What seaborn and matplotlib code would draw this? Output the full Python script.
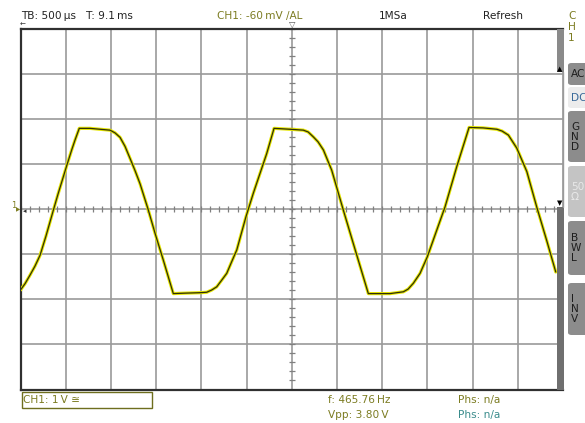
import numpy as np
import pandas as pd
import matplotlib
matplotlib.use("Agg")
import matplotlib.pyplot as plt
import seaborn as sns
from matplotlib.patches import Rectangle, FancyBboxPatch

# ---- data (time in ms from left edge, voltage in V) ----
time_ms = [0.000, 0.050, 0.105, 0.160, 0.216, 0.282, 0.363, 0.415, 0.473, 0.514,
           0.566, 0.603, 0.650, 0.769, 0.879, 0.990, 1.045, 1.101, 1.156, 1.212,
           1.267, 1.322, 1.410, 1.488, 1.580, 1.632, 1.690, 1.820, 1.986, 2.060,
           2.115, 2.170, 2.226, 2.281, 2.336, 2.392, 2.494, 2.575, 2.649, 2.723,
           2.804, 2.981, 3.128, 3.181, 3.239, 3.291, 3.350, 3.442, 3.571, 3.681,
           3.847, 4.087, 4.235, 4.287, 4.345, 4.419, 4.500, 4.604, 4.696, 4.825,
           4.961, 5.116, 5.268, 5.326, 5.396, 5.489, 5.600, 5.710, 5.821, 5.920]
volts = [-1.79, -1.65, -1.46, -1.26, -1.02, -0.59, -0.02, 0.34, 0.72, 0.99,
         1.32, 1.54, 1.80, 1.80, 1.78, 1.76, 1.70, 1.60, 1.40, 1.13,
         0.86, 0.57, 0.01, -0.53, -1.13, -1.48, -1.87, -1.86, -1.85, -1.84,
         -1.79, -1.72, -1.57, -1.42, -1.16, -0.90, -0.16, 0.36, 0.80, 1.24,
         1.80, 1.78, 1.76, 1.72, 1.61, 1.50, 1.32, 0.87, -0.02, -0.76,
         -1.87, -1.87, -1.83, -1.77, -1.64, -1.42, -1.05, -0.46, 0.06, 0.95,
         1.82, 1.81, 1.78, 1.74, 1.65, 1.36, 0.84, 0.05, -0.70, -1.39]

x_grid = np.arange(0, 6.01, 0.5)     # 500 us / div, 12 div
y_grid = np.arange(-4, 4.01, 1.0)    # 1 V / div, 8 div

header_left = "TB: 500\u2009\u00b5s   T: 9.1\u2009ms"
header_trig = "CH1: -60\u2009mV \u2215AL"
header_rate = "1MSa"
header_mode = "Refresh"
ch_box = "CH1: 1\u2009V \u2245"
meas1 = ["f: 465.76\u2009Hz", "Vpp: 3.80\u2009V"]
meas2 = ["Phs: n/a", "Phs: n/a"]
buttons = ["AC", "DC", "G\nN\nD", "50\n\u2126", "B\nW\nL", "I\nN\nV"]

df = pd.DataFrame({"t": time_ms, "v": volts})

W, H = 585, 423
sns.set_style("white")
plt.rcParams["font.family"] = ["DejaVu Sans"]
fig = plt.figure(figsize=(W / 100, H / 100), dpi=100)
fig.patch.set_facecolor("white")

def fx(px):
    return px / W

def fy(py):
    return 1 - py / H

L, R, T, B = 20.5, 563.0, 29.3, 389.5
ax = fig.add_axes([fx(L), fy(B), (R - L) / W, (B - T) / H])
ax.set_xlim(0, 6)
ax.set_ylim(-4, 4)
ax.set_xticks(x_grid)
ax.set_yticks(y_grid)
ax.grid(True, color="#9a9a9a", lw=1.2)
ax.tick_params(length=0, labelbottom=False, labelleft=False)
for s in ["left", "top", "bottom"]:
    ax.spines[s].set_color("#303030")
    ax.spines[s].set_linewidth(1.6)
ax.spines["right"].set_visible(False)

# centre axis ticks
tt = np.arange(0, 6.001, 0.1)
ax.plot(tt, np.zeros_like(tt), ls="none", marker="|", ms=5, mew=0.9, color="#808080", zorder=2)
vv = np.arange(-4, 4.001, 0.2)
ax.plot(np.full_like(vv, 3.0), vv, ls="none", marker="_", ms=5, mew=0.9, color="#808080", zorder=2)

# trace
sns.lineplot(data=df, x="t", y="v", ax=ax, color="#e6e600", lw=2.3, sort=False,
             estimator=None, legend=False, zorder=3, solid_joinstyle="round")
sns.lineplot(data=df, x="t", y="v", ax=ax, color="#2e2e0a", lw=0.9, sort=False,
             estimator=None, legend=False, zorder=4, solid_joinstyle="round")
ax.set_xlabel("")
ax.set_ylabel("")

# right scroll bar
fig.patches.append(Rectangle((fx(557), fy(72)), 6.5 / W, (72 - 29) / H,
                             transform=fig.transFigure, fc="#8a8a8a", ec="none"))
fig.patches.append(Rectangle((fx(557), fy(389.5)), 6.5 / W, (389.5 - 207) / H,
                             transform=fig.transFigure, fc="#6f6f6f", ec="none"))
fig.add_artist(plt.Line2D([fx(563), fx(563)], [fy(207), fy(72)], color="#9a9a9a", lw=1.0))
fig.text(fx(559.5), fy(69), "\u25b2", fontsize=5, color="black", ha="center", va="center")
fig.text(fx(559.5), fy(203), "\u25bc", fontsize=5, color="black", ha="center", va="center")

# markers
fig.text(fx(292), fy(24), "\u25bd", fontsize=6, color="#555555", ha="center", va="center")
fig.text(fx(22.5), fy(25), "\u2190", fontsize=5, color="#303030", ha="center", va="center")
fig.text(fx(14), fy(205), "1", fontsize=6, color="#7d7d20", ha="center", va="center")
fig.text(fx(18.5), fy(209.5), "\u25b6", fontsize=4, color="#7d7d20", ha="center", va="center")
fig.text(fx(25), fy(211), "\u25c2", fontsize=5, color="#303030", ha="center", va="center")

# header texts
fs = 7.6
olive = "#7c7c22"
fig.text(fx(21), fy(16), header_left, fontsize=fs, color="#222222", ha="left", va="center")
fig.text(fx(217), fy(16), header_trig, fontsize=fs, color=olive, ha="left", va="center")
fig.text(fx(379), fy(16), header_rate, fontsize=fs, color="#222222", ha="left", va="center")
fig.text(fx(483), fy(16), header_mode, fontsize=fs, color="#222222", ha="left", va="center")
fig.text(fx(568), fy(27), "C\nH\n1", fontsize=fs, color=olive, ha="left", va="center",
         linespacing=1.15)

# bottom box and measurements
fig.patches.append(Rectangle((fx(21.5), fy(407.5)), (152 - 21.5) / W, (407.5 - 391.5) / H,
                             transform=fig.transFigure, fc="white", ec="#6e6e1e", lw=1.0))
fig.text(fx(23), fy(400), ch_box, fontsize=fs, color=olive, ha="left", va="center")
fig.text(fx(328), fy(400), meas1[0], fontsize=fs, color=olive, ha="left", va="center")
fig.text(fx(328), fy(415), meas1[1], fontsize=fs, color=olive, ha="left", va="center")
fig.text(fx(458), fy(400), meas2[0], fontsize=fs, color=olive, ha="left", va="center")
fig.text(fx(458), fy(415), meas2[1], fontsize=fs, color="#3a8c8c", ha="left", va="center")

# side buttons (cut off at right edge)
btn_y = [(63, 85), (87, 108), (111, 162), (166, 217), (221, 275), (283, 335)]
btn_fc = ["#8c8c8c", "#ececec", "#8c8c8c", "#c4c4c4", "#8c8c8c", "#8c8c8c"]
btn_tc = ["#1e1e1e", "#3a6a9a", "#1e1e1e", "#e8e8e8", "#1e1e1e", "#1e1e1e"]
for (y0, y1), fc, tc, lab in zip(btn_y, btn_fc, btn_tc, buttons):
    fig.patches.append(FancyBboxPatch((fx(568), fy(y1)), 30 / W, (y1 - y0) / H,
                                      boxstyle="round,pad=0,rounding_size=0.006",
                                      transform=fig.transFigure, fc=fc, ec="none"))
    fig.text(fx(571), fy((y0 + y1) / 2), lab, fontsize=fs, color=tc, ha="left",
             va="center", linespacing=1.0)

fig.savefig("out.png", dpi=100)
